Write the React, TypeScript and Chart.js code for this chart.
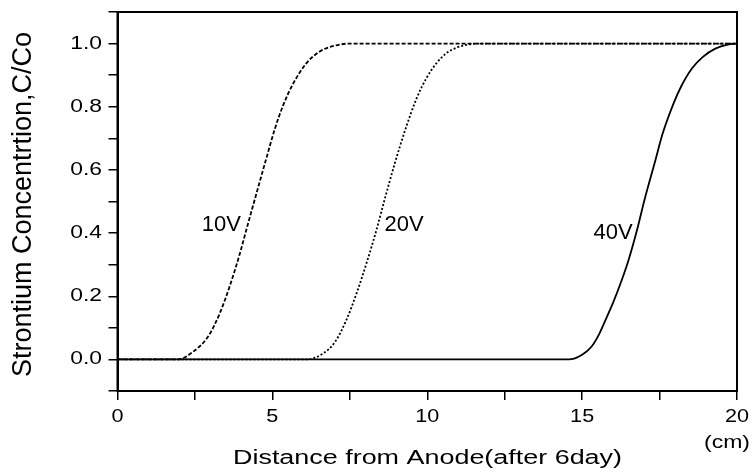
import React, { useEffect, useRef } from "react";
import { Chart, registerables } from "chart.js";

Chart.register(...registerables);

// ---- data ----
const xTickValues = [0, 5, 10, 15, 20];
const xTickLabels = ["0", "5", "10", "15", "20"];
const yTickValues = [0, 0.2, 0.4, 0.6, 0.8, 1.0];
const yTickLabels = ["0.0", "0.2", "0.4", "0.6", "0.8", "1.0"];

const dist10V = [0, 1.96, 2.45, 2.93, 3.31, 3.63, 3.95, 4.2, 4.47, 4.8, 5.08, 5.35, 5.67, 6.1, 6.53, 7.0, 7.5, 20];
const conc10V = [0, 0, 0.025, 0.073, 0.148, 0.234, 0.335, 0.425, 0.52, 0.635, 0.73, 0.805, 0.873, 0.938, 0.975, 0.993, 1.0, 1.0];

const dist20V = [0, 6.1, 6.64, 7.02, 7.39, 7.72, 8.04, 8.36, 8.62, 8.95, 9.3, 9.65, 9.97, 10.3, 10.62, 10.94, 11.26, 11.6, 20];
const conc20V = [0, 0, 0.019, 0.055, 0.125, 0.21, 0.305, 0.41, 0.505, 0.62, 0.73, 0.825, 0.89, 0.938, 0.97, 0.987, 0.996, 1.0, 1.0];

const dist40V = [0, 14.57, 15.0, 15.3, 15.55, 15.8, 16.0, 16.2, 16.5, 16.8, 17.0, 17.35, 17.6, 17.95, 18.2, 18.55, 18.9, 19.3, 19.7, 20];
const conc40V = [0, 0, 0.015, 0.04, 0.08, 0.135, 0.18, 0.23, 0.315, 0.42, 0.5, 0.625, 0.715, 0.81, 0.865, 0.922, 0.958, 0.984, 0.997, 1.0];

const curveLabels = ["10V", "20V", "40V"];
const curveLabelX = [3.35, 9.25, 16.0];
const curveLabelY = [0.425, 0.425, 0.4];

const xTitle = "Distance from Anode(after 6day)";
const xUnit = "(cm)";
const yTitle = "Strontium Concentrtion,C/Co";

const FONT = '"Liberation Sans", Arial, Helvetica, sans-serif';

function toPoints(xs: number[], ys: number[]) {
  return xs.map((x, i) => ({ x, y: ys[i] }));
}

type TextOpts = {
  align?: "left" | "center" | "right";
  sx?: number;
  sy?: number;
  width?: number;
  rotate?: boolean;
};

function drawText(ctx: CanvasRenderingContext2D, text: string, x: number, y: number, size: number, opts: TextOpts = {}) {
  ctx.save();
  ctx.font = `${size}px ${FONT}`;
  ctx.fillStyle = "#000";
  ctx.textBaseline = "middle";
  ctx.textAlign = "left";
  const w = ctx.measureText(text).width;
  let sx = opts.sx ?? 1;
  if (opts.width) sx = opts.width / w;
  ctx.translate(x, y);
  if (opts.rotate) ctx.rotate(-Math.PI / 2);
  ctx.scale(sx, opts.sy ?? 1);
  const align = opts.align ?? "center";
  const dx = align === "center" ? -w / 2 : align === "right" ? -w : 0;
  ctx.fillText(text, dx, 0);
  ctx.restore();
}

const decorPlugin = {
  id: "decor",
  afterDraw(chart: any) {
    const ctx: CanvasRenderingContext2D = chart.ctx;
    const xs = chart.scales.x;
    const ys = chart.scales.y;
    const ca = chart.chartArea;

    // frame
    ctx.save();
    ctx.strokeStyle = "#000";
    ctx.lineWidth = 2;
    ctx.strokeRect(ca.left, ca.top, ca.right - ca.left, ca.bottom - ca.top);
    ctx.restore();

    // y tick labels
    yTickValues.forEach((v, i) => {
      drawText(ctx, yTickLabels[i], ca.left - 15.5, ys.getPixelForValue(v), 18, { align: "right", sx: 1.27 });
    });
    // x tick labels
    xTickValues.forEach((v, i) => {
      drawText(ctx, xTickLabels[i], xs.getPixelForValue(v), ca.bottom + 26.5, 18, { align: "center", sx: 1.2 });
    });
    // unit
    drawText(ctx, xUnit, 750, ca.bottom + 52, 18, { align: "right", width: 46 });
    // x title
    drawText(ctx, xTitle, 427.5, ca.bottom + 68, 19.5, { align: "center", width: 389 });
    // y title
    drawText(ctx, yTitle, 23, 204.5, 27, { align: "center", rotate: true, sy: 1.05 });

    // curve labels
    curveLabels.forEach((t, i) => {
      drawText(ctx, t, xs.getPixelForValue(curveLabelX[i]), ys.getPixelForValue(curveLabelY[i]), 22, { align: "center" });
    });
  },
};

export default function App() {
  const ref = useRef<HTMLCanvasElement>(null);

  useEffect(() => {
    const canvas = ref.current;
    if (!canvas) return;
    const chart = new Chart(canvas, {
      type: "line",
      data: {
        datasets: [
          {
            label: "10V",
            data: toPoints(dist10V, conc10V),
            borderColor: "#000",
            borderWidth: 1.8,
            borderDash: [4, 2],
            pointRadius: 0,
            fill: false,
            cubicInterpolationMode: "monotone",
          },
          {
            label: "20V",
            data: toPoints(dist20V, conc20V),
            borderColor: "#000",
            borderWidth: 1.8,
            borderDash: [2, 2],
            pointRadius: 0,
            fill: false,
            cubicInterpolationMode: "monotone",
          },
          {
            label: "40V",
            data: toPoints(dist40V, conc40V),
            borderColor: "#000",
            borderWidth: 1.8,
            pointRadius: 0,
            fill: false,
            cubicInterpolationMode: "monotone",
          },
        ],
      },
      options: {
        animation: false,
        responsive: false,
        devicePixelRatio: 1,
        layout: { padding: { top: 12, right: 16, left: 0, bottom: 0 } },
        plugins: { legend: { display: false }, tooltip: { enabled: false } },
        scales: {
          x: {
            type: "linear",
            min: 0,
            max: 20,
            ticks: { stepSize: 2.5, autoSkip: false, callback: () => "", color: "rgba(0,0,0,0)" },
            grid: { drawOnChartArea: false, drawTicks: true, tickLength: 9, color: "#000", lineWidth: 1.5 },
            border: { display: true, color: "#000", width: 2 },
            afterFit: (s: any) => {
              s.height = 83;
            },
          },
          y: {
            type: "linear",
            min: -0.1,
            max: 1.1,
            ticks: { stepSize: 0.1, autoSkip: false, callback: () => "", color: "rgba(0,0,0,0)" },
            grid: { drawOnChartArea: false, drawTicks: true, tickLength: 9, color: "#000", lineWidth: 1.5 },
            border: { display: true, color: "#000", width: 2 },
            afterFit: (s: any) => {
              s.width = 117.5;
            },
          },
        },
      },
      plugins: [decorPlugin],
    } as any);
    return () => chart.destroy();
  }, []);

  return (
    <div style={{ position: "absolute", left: 0, top: 0, width: 753, height: 474, background: "#fff" }}>
      <canvas ref={ref} width={753} height={474} style={{ display: "block", width: 753, height: 474 }} />
    </div>
  );
}
